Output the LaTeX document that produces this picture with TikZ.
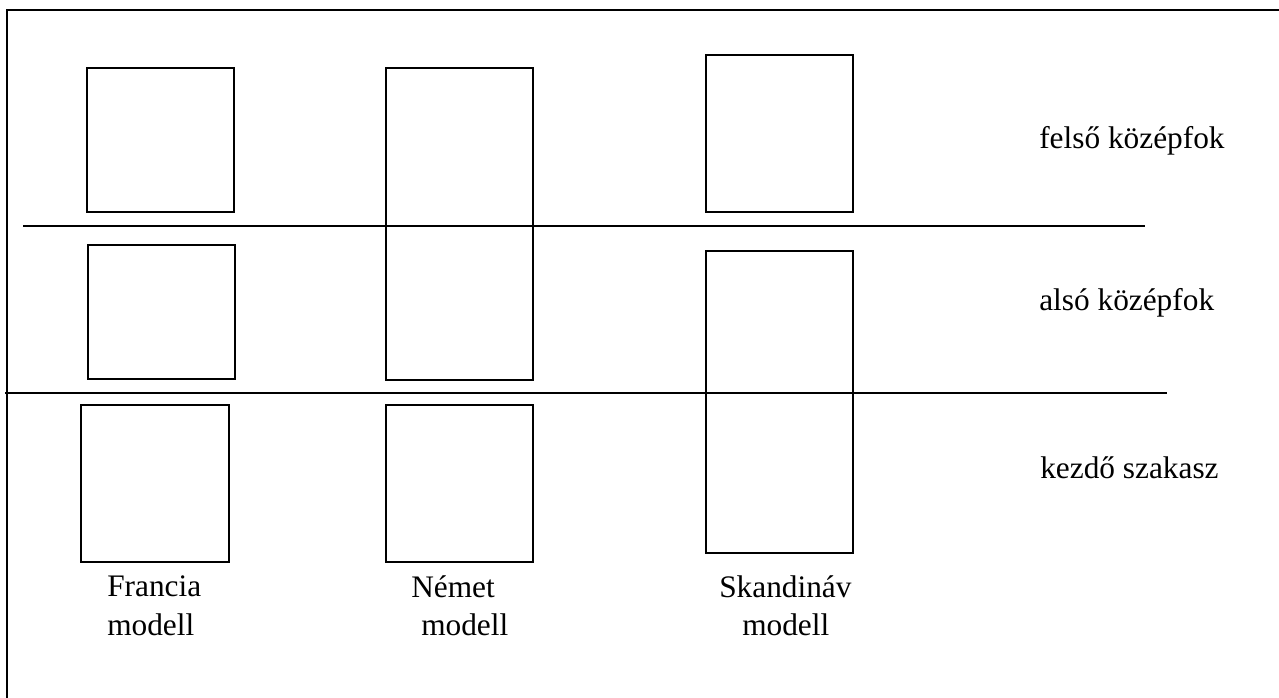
\documentclass[tikz,border=0pt]{standalone}
\usepackage{fontspec}
\setmainfont{Liberation Serif}
\begin{document}
\begin{tikzpicture}[x=0.75pt,y=-0.75pt,
  box/.style={draw=black,line width=1.2pt},
  divider/.style={draw=black,line width=1.2pt},
  frame/.style={draw=black,line width=1.7pt},
  lbl/.style={anchor=base west,inner sep=0pt,font=\fontsize{23.5}{28}\selectfont}]
\useasboundingbox (0,0) rectangle (1279,697);
% outer frame (clipped by page on right and bottom)
\draw[frame] (7,710) -- (7,10) -- (1290,10);
% dividers
\draw[divider] (23,226) -- (1145,226);
\draw[divider] (5,393) -- (1167,393);
% Francia model
\draw[box] (87,68) rectangle (234,212);
\draw[box] (88,245) rectangle (235,379);
\draw[box] (81,405) rectangle (229,562);
% Nemet model
\draw[box] (386,68) rectangle (533,380);
\draw[box] (386,405) rectangle (533,562);
% Skandinav model
\draw[box] (706,55) rectangle (853,212);
\draw[box] (706,251) rectangle (853,553);
% labels
\node[lbl] (fr1) at (107,596) {Francia};
\node[lbl] (fr2) at (107,635) {modell};
\node[lbl] (ne1) at (411,597) {Német};
\node[lbl] (ne2) at (421,635) {modell};
\node[lbl] (sk1) at (719,597) {Skandináv};
\node[lbl] (sk2) at (742,635) {modell};
\node[lbl] (fk) at (1039,148) {felső középfok};
\node[lbl] (ak) at (1039,310) {alsó középfok};
\node[lbl] (ksz) at (1040,478) {kezdő szakasz};
\end{tikzpicture}
\end{document}
